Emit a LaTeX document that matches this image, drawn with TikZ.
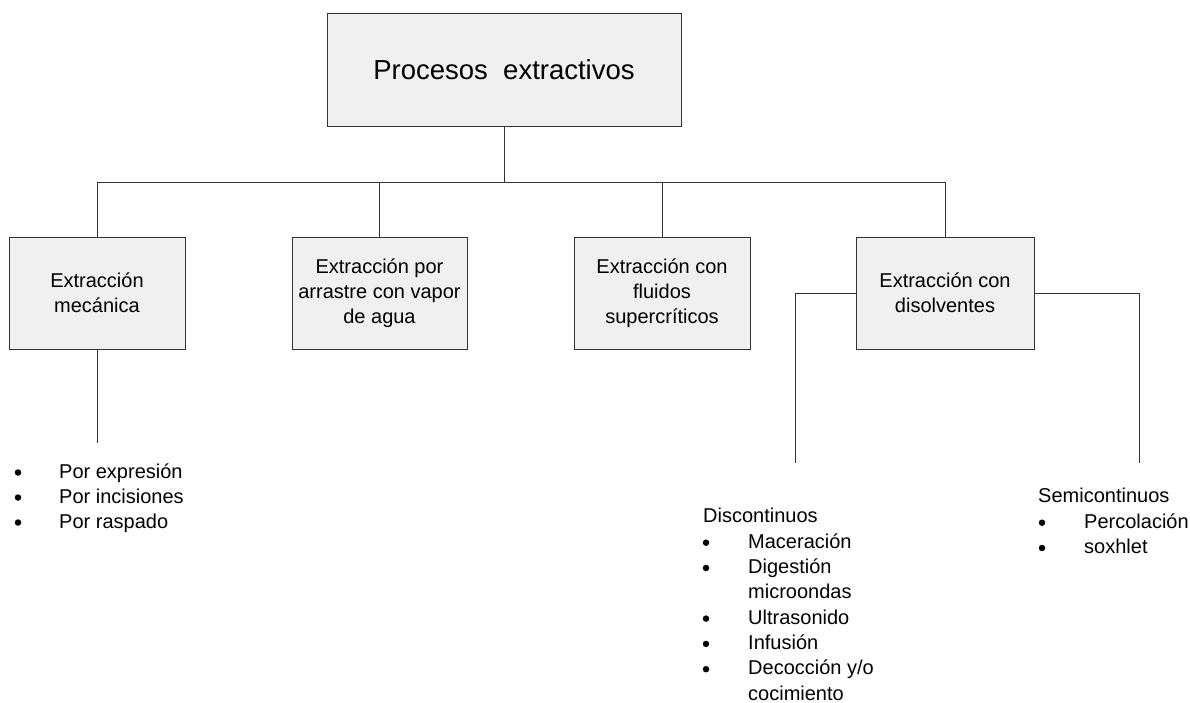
\documentclass[tikz,border=0pt]{standalone}
\usepackage{fontspec}
\setmainfont{Liberation Sans}
\definecolor{boxfill}{HTML}{F0F0F0}
\definecolor{linegray}{HTML}{333333}

\begin{document}
\begin{tikzpicture}[x=1pt,y=-1pt]
\tikzset{proc/.style={draw=linegray, fill=boxfill, line width=0.9pt, align=center, inner sep=0pt, minimum width=176pt, minimum height=112pt, font=\fontsize{20}{25}\selectfont}}
\tikzset{conn/.style={draw=linegray, line width=0.9pt}}
\tikzset{item/.style={anchor=base west, inner sep=0pt, font=\fontsize{20}{25}\selectfont}}
\tikzset{blt/.style={circle, fill=black, inner sep=0pt, minimum size=6.5pt, yshift=5.5pt}}
\useasboundingbox (0,0) rectangle (1190,703);

% main boxes
\node [proc, minimum width=354pt, minimum height=113pt, font=\fontsize{27.5}{33}\selectfont] (P) at (504,69.5) {Procesos\ \ extractivos};
\node [proc] (mec) at (97,293) {Extracción\\mecánica};
\node [proc, minimum width=175pt] (arr) at (379.5,293) {Extracción por\\arrastre con vapor\\de agua};
\node [proc] (flu) at (662,293) {Extracción con\\fluidos\\supercríticos};
\node [proc, minimum width=178pt] (dis) at (945,293) {Extracción con\\disolventes};

% tree lines
\coordinate (bus) at (503,182.5);
\draw [conn] (P.south) -- (P.south |- bus);
\draw [conn] (mec.north) |- (bus) -| (dis.north);
\draw [conn] (arr.north) -- (arr.north |- bus);
\draw [conn] (flu.north) -- (flu.north |- bus);

\coordinate (mecEnd) at (97,443);
\coordinate (disL) at (795,463);
\coordinate (disR) at (1139,463);
\draw [conn] (mec.south) -- (mecEnd);
\draw [conn] (dis.west) -| (disL);
\draw [conn] (dis.east) -| (disR);

% mecanica list
\node [blt] (mb1) at (18,478) {};
\node [item] (m1) at (59,478) {Por expresión};
\node [blt] (mb2) at (18,503) {};
\node [item] (m2) at (59,503) {Por incisiones};
\node [blt] (mb3) at (18,528) {};
\node [item] (m3) at (59,528) {Por raspado};

% discontinuos list
\node [item] (dh) at (703,522.7) {Discontinuos};
\node [blt] (db1) at (706,548.2) {};
\node [item] (d1) at (748,548.2) {Maceración};
\node [blt] (db2) at (706,573.5) {};
\node [item] (d2) at (748,573.5) {Digestión};
\node [item] (d2b) at (748,598.8) {microondas};
\node [blt] (db3) at (706,624.1) {};
\node [item] (d3) at (748,624.1) {Ultrasonido};
\node [blt] (db4) at (706,649.4) {};
\node [item] (d4) at (748,649.4) {Infusión};
\node [blt] (db5) at (706,674.7) {};
\node [item] (d5) at (748,674.7) {Decocción y/o};
\node [item] (d5b) at (748,700) {cocimiento};

% semicontinuos list
\node [item] (sh) at (1038,502.7) {Semicontinuos};
\node [blt] (sb1) at (1042,528.2) {};
\node [item] (s1) at (1084,528.2) {Percolación};
\node [blt] (sb2) at (1042,553.5) {};
\node [item] (s2) at (1084,553.5) {soxhlet};
\end{tikzpicture}
\end{document}
